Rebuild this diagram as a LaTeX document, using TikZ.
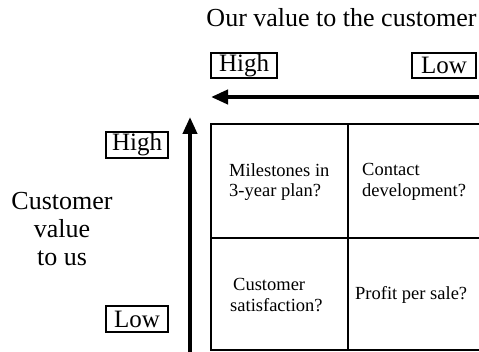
\documentclass[tikz,border=0pt]{standalone}
\usepackage{fontspec}
\setmainfont{Liberation Serif}
\usetikzlibrary{arrows.meta}
\begin{document}
\begin{tikzpicture}[x=1pt,y=-1pt,
  big/.style={font=\fontsize{26}{27}\selectfont},
  small/.style={font=\fontsize{18.5}{20.5}\selectfont, align=left, anchor=west, inner sep=0pt},
  lvl/.style={draw, line width=1.1pt, inner sep=0pt, minimum height=25pt, font=\fontsize{25}{26}\selectfont},
  bigarrow/.style={line width=4pt, -{Triangle[length=17pt,width=14pt]}},
  gridline/.style={line width=1.3pt}]
\useasboundingbox (0,0) rectangle (479,352);
% title
\node[big, anchor=base, inner sep=0pt] (title) at (341.5,27) {Our value to the customer};
% top level boxes
\node[lvl, minimum width=66pt] (thigh) at (244,65.5) {High};
\node[lvl, minimum width=64pt] (tlow) at (444,65.5) {Low};
% horizontal arrow
\coordinate (hs) at (482,97);
\coordinate (he) at (211,97);
\draw[bigarrow] (hs) -- (he);
% vertical arrow
\coordinate (vs) at (190,355);
\coordinate (ve) at (190,117);
\draw[bigarrow] (vs) -- (ve);
% left level boxes
\node[lvl, minimum width=62pt, minimum height=26pt] (lhigh) at (137,145) {High};
\node[lvl, minimum width=62pt, minimum height=26pt] (llow) at (137,319) {Low};
% left label
\node[font=\fontsize{26}{28}\selectfont, align=center, inner sep=0pt] (cv) at (62,229) {Customer\\value\\to us};
% grid
\coordinate (g1) at (211,124);
\coordinate (g2) at (480,124);
\coordinate (g3) at (211,350);
\coordinate (g4) at (480,350);
\coordinate (g5) at (348,124);
\coordinate (g6) at (348,350);
\coordinate (g7) at (211,238);
\coordinate (g8) at (480,238);
\draw[gridline] (g2) -- (g1) -- (g3) -- (g4);
\draw[gridline] (g5) -- (g6);
\draw[gridline] (g7) -- (g8);
% cell texts
\node[small] (c1) at (229,182) {Milestones in\\3-year plan?};
\node[small] (c2) at (362,182) {Contact\\development?};
\node[small] (c3) at (230,295) {\hspace{3pt}Customer\\satisfaction?};
\node[small] (c4) at (355,295) {Profit per sale?};
\end{tikzpicture}
\end{document}
